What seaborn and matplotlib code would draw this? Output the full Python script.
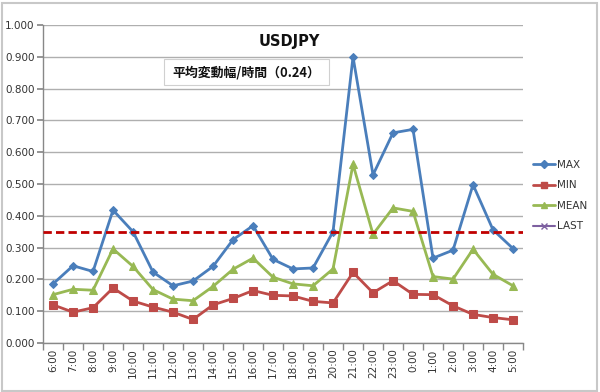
import matplotlib
matplotlib.use("Agg")
import matplotlib.pyplot as plt
from matplotlib.lines import Line2D
from matplotlib.patches import Rectangle
import seaborn as sns
import pandas as pd
import numpy as np

hours = ["6:00", "7:00", "8:00", "9:00", "10:00", "11:00", "12:00", "13:00",
         "14:00", "15:00", "16:00", "17:00", "18:00", "19:00", "20:00", "21:00",
         "22:00", "23:00", "0:00", "1:00", "2:00", "3:00", "4:00", "5:00"]
max_vals = [0.186, 0.243, 0.225, 0.418, 0.350, 0.223, 0.180, 0.195,
            0.241, 0.325, 0.369, 0.263, 0.233, 0.236, 0.350, 0.900,
            0.529, 0.661, 0.672, 0.267, 0.292, 0.498, 0.356, 0.297]
min_vals = [0.120, 0.097, 0.111, 0.173, 0.132, 0.113, 0.097, 0.074,
            0.120, 0.140, 0.165, 0.150, 0.148, 0.131, 0.126, 0.222,
            0.158, 0.196, 0.153, 0.152, 0.117, 0.090, 0.080, 0.073]
mean_vals = [0.152, 0.169, 0.166, 0.296, 0.241, 0.168, 0.138, 0.133,
             0.178, 0.232, 0.267, 0.207, 0.186, 0.180, 0.233, 0.562,
             0.342, 0.425, 0.414, 0.209, 0.201, 0.295, 0.216, 0.180]
last_level = 0.35
series_names = ["MAX", "MIN", "MEAN", "LAST"]
title = "USDJPY"
box_text = "平均変動幅/時間（0.24）"
y_ticks = [0.0, 0.1, 0.2, 0.3, 0.4, 0.5, 0.6, 0.7, 0.8, 0.9, 1.0]

colors = {"MAX": "#4A7EBB", "MIN": "#BE4B48", "MEAN": "#98B954", "LAST": "#7D60A0"}
markers = {"MAX": "D", "MIN": "s", "MEAN": "^"}
msizes = {"MAX": 4, "MIN": 6, "MEAN": 6}

df = pd.DataFrame({
    "hour": hours * 3,
    "value": max_vals + min_vals + mean_vals,
    "series": ["MAX"] * len(hours) + ["MIN"] * len(hours) + ["MEAN"] * len(hours),
})

sns.set_theme(style="white")
plt.rcParams["font.family"] = ["DejaVu Sans", "Noto Sans CJK JP"]

fig = plt.figure(figsize=(6, 3.92), dpi=100)
ax = fig.add_axes([0.0717, 0.125, 0.8, 0.811])

for name in ["MAX", "MIN", "MEAN"]:
    sub = df[df["series"] == name]
    sns.lineplot(data=sub, x="hour", y="value", ax=ax, color=colors[name],
                 marker=markers[name], markersize=msizes[name], linewidth=2,
                 markeredgecolor=colors[name], sort=False, label=name,
                 legend=False)

ax.axhline(last_level, color="#C00000", linestyle=(0, (3, 1.5)), linewidth=2, zorder=5)

ax.set_xlim(-0.5, len(hours) - 0.5)
ax.set_ylim(0, 1.0)
ax.set_yticks(y_ticks)
ax.set_yticklabels([f"{v:.3f}" for v in y_ticks], fontsize=7.5, color="#333333")
ax.set_xticks(range(len(hours)))
ax.set_xticklabels(hours, rotation=90, fontsize=7.5, color="#333333")
ax.set_xticks(np.arange(-0.5, len(hours), 1), minor=True)
ax.tick_params(axis="x", which="major", length=0, pad=4)
ax.tick_params(axis="x", which="minor", length=5, color="#888888", direction="out", bottom=True)
ax.tick_params(axis="y", which="major", length=4, color="#888888", direction="out", left=True, pad=2)
ax.set_xlabel("")
ax.set_ylabel("")
ax.yaxis.grid(True, color="#AFAFAF", linewidth=1)
ax.xaxis.grid(False)
for s in ["top", "right"]:
    ax.spines[s].set_visible(False)
for s in ["left", "bottom"]:
    ax.spines[s].set_color("#888888")
    ax.spines[s].set_linewidth(1)

fig.text(0.483, 0.893, title, fontsize=10.5, fontweight="bold", ha="center", va="center",
         color="#111111")
fig.patches.append(Rectangle((164 / 600, 1 - 85 / 392), 165 / 600, 26 / 392,
                             transform=fig.transFigure, fc="white", ec="#D0D0D0",
                             lw=0.8, zorder=3))
fig.text(172 / 600, 1 - 72.5 / 392, box_text, fontsize=9.3, fontweight="bold",
         ha="left", va="center", family=["Noto Sans CJK JP", "DejaVu Sans"],
         color="#111111", zorder=4)

handles = [
    Line2D([], [], color=colors["MAX"], marker="D", markersize=4, lw=2),
    Line2D([], [], color=colors["MIN"], marker="s", markersize=5, lw=2),
    Line2D([], [], color=colors["MEAN"], marker="^", markersize=5, lw=2),
    Line2D([], [], color=colors["LAST"], marker="x", markersize=5, lw=1.5),
]
fig.legend(handles, series_names, loc="upper left", bbox_to_anchor=(0.872, 0.616),
           frameon=False, fontsize=7.5, handlelength=2.2, handletextpad=0.15,
           labelspacing=1.0, labelcolor="#333333")

fig.add_artist(Rectangle((0.003, 0.003), 0.992, 0.99, transform=fig.transFigure,
                         fill=False, ec="#C8C8C8", lw=1.5))

fig.savefig("out.png", dpi=100)
